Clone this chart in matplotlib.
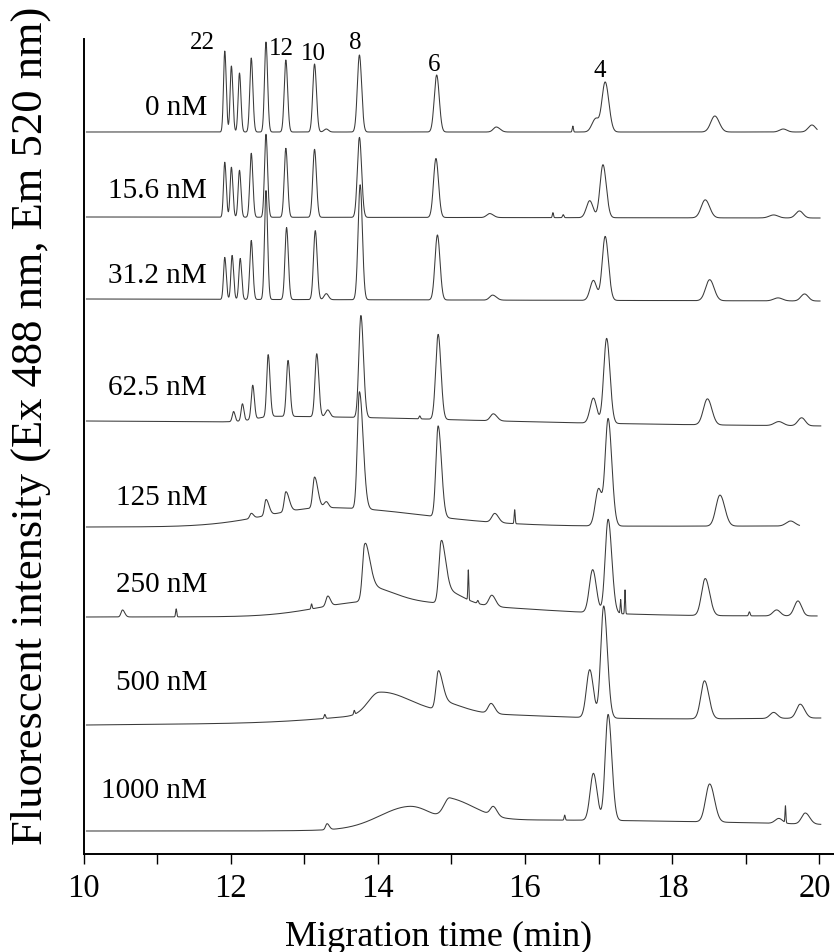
import numpy as np
import matplotlib
matplotlib.use('Agg')
import matplotlib.pyplot as plt
from matplotlib.transforms import ScaledTranslation

plt.rcParams['font.family'] = ['Liberation Serif', 'DejaVu Serif']

# ---------------- data ----------------
# Each trace: baseline level at start / end (intensity units, arbitrary) and
# peak table: (migration time, height, left width, right width)
concentrations = ['0 nM', '15.6 nM', '31.2 nM', '62.5 nM', '125 nM', '250 nM', '500 nM', '1000 nM']
label_baseline = [740, 657, 572, 460, 350, 263, 165, 57]

base_start = [722, 637, 555, 433, 327, 237, 129, 23]
base_end = [722, 636, 553, 428, 328, 238, 136, 23]
t_start = [10.04, 10.04, 10.04, 10.04, 10.04, 10.04, 10.04, 10.04]
t_end = [19.97, 20.01, 20.01, 20.02, 19.73, 19.97, 20.02, 20.02]

peaks_0 = [(11.92, 81, .017, .02), (12.01, 66, .017, .02), (12.12, 59, .018, .02),
           (12.28, 74, .02, .022), (12.48, 90, .02, .022), (12.75, 72, .022, .024),
           (13.14, 68, .024, .026), (13.30, 3, .03, .03), (13.75, 77, .028, .03),
           (14.80, 57, .033, .035), (15.61, 5, .04, .05), (16.65, 6, .008, .008),
           (16.96, 13, .05, .04), (17.09, 50, .045, .05), (18.58, 16, .055, .06),
           (19.51, 3, .05, .05), (19.90, 7, .05, .05)]
peaks_15 = [(11.92, 55, .017, .02), (12.01, 50, .017, .02), (12.12, 47, .018, .02),
            (12.28, 64, .02, .022), (12.48, 83, .02, .022), (12.75, 69, .022, .024),
            (13.14, 68, .024, .026), (13.75, 80, .028, .03), (14.79, 59, .033, .035),
            (15.52, 4, .04, .05), (16.38, 5, .008, .008), (16.52, 3, .01, .01),
            (16.88, 17, .045, .045), (17.06, 53, .04, .045), (18.45, 18, .055, .06),
            (19.38, 3, .06, .06), (19.73, 7, .05, .05)]
peaks_31 = [(11.92, 42, .017, .02), (12.02, 44, .017, .02), (12.13, 41, .018, .02),
            (12.28, 59, .02, .022), (12.48, 109, .02, .022), (12.76, 72, .022, .024),
            (13.15, 69, .024, .026), (13.30, 6, .03, .03), (13.76, 115, .028, .03),
            (14.81, 65, .033, .035), (15.56, 5, .04, .05), (16.93, 20, .045, .045),
            (17.09, 64, .04, .045), (18.51, 21, .055, .06), (19.44, 3, .06, .06),
            (19.80, 7, .05, .05)]
peaks_62 = [(12.60, 6, .25, 2.5),
            (12.04, 10, .018, .02), (12.16, 17, .018, .02), (12.30, 34, .02, .022),
            (12.51, 62, .02, .025), (12.78, 56, .022, .026), (13.17, 63, .024, .028),
            (13.32, 7, .03, .03), (13.77, 102, .028, .035), (14.57, 3, .01, .01),
            (14.82, 85, .033, .038), (15.57, 7, .04, .05), (16.93, 25, .045, .045),
            (17.11, 85, .04, .045), (18.48, 26, .055, .06), (19.45, 4, .06, .06),
            (19.76, 8, .05, .05)]
peaks_125 = [(13.30, 19, .8, 1.3),
             (12.28, 5, .02, .03), (12.48, 16, .02, .04), (12.75, 20, .022, .045),
             (13.14, 31, .024, .045), (13.30, 6, .03, .03), (13.75, 117, .028, .05),
             (14.82, 91, .03, .045), (15.59, 9, .04, .05), (15.86, 14, .007, .007),
             (17.00, 37, .045, .045), (17.13, 107, .04, .05), (18.65, 31, .055, .065),
             (19.61, 5, .06, .06)]
peaks_250 = [(13.90, 15, .7, 1.8),
             (10.53, 7, .02, .03), (11.26, 8, .008, .008), (13.10, 5, .008, .008),
             (13.32, 10, .025, .035), (13.82, 45, .028, .07), (13.85, 15, .05, .35),
             (14.86, 50, .03, .06), (14.88, 14, .04, .25), (15.23, 30, .006, .006),
             (15.36, 3, .01, .01), (15.55, 11, .04, .05), (16.92, 43, .045, .05),
             (17.13, 94, .04, .05), (17.30, 14, .006, .006), (17.36, 24, .006, .006),
             (18.45, 37, .05, .06), (19.05, 4, .01, .01), (19.42, 6, .05, .05),
             (19.71, 15, .05, .05)]
peaks_500 = [(14.50, 9, 1.0, 1.5), (14.02, 22, .15, .4),
             (13.28, 4, .01, .01), (13.68, 4, .008, .008),
             (14.82, 30, .03, .06), (14.84, 10, .04, .3), (15.54, 10, .04, .05),
             (16.88, 48, .045, .05), (17.07, 112, .04, .05), (18.44, 38, .05, .06),
             (19.38, 6, .05, .05), (19.74, 14, .05, .06)]
peaks_1000 = [(16.00, 11, 1.2, 4.0), (14.42, 20, .4, .3), (14.98, 22, .08, .35),
              (13.31, 6, .02, .03), (15.57, 9, .04, .05), (16.54, 5, .008, .008),
              (16.93, 47, .045, .05), (17.13, 106, .04, .05), (18.51, 38, .055, .065),
              (19.45, 5, .05, .05), (19.54, 17, .006, .006), (19.81, 11, .05, .06)]
peak_tables = [peaks_0, peaks_15, peaks_31, peaks_62, peaks_125, peaks_250, peaks_500, peaks_1000]

# fragment-size annotations
size_labels = ['22', '12', '10', '8', '6', '4']
size_label_t = [11.61, 12.69, 13.12, 13.69, 14.76, 17.01]
size_label_y = [806, 800, 795, 806, 784, 778]

xticks = [10, 12, 14, 16, 18, 20]
xminor = [11, 13, 15, 17, 19]

# ---------------- figure ----------------
fig = plt.figure(figsize=(8.34, 9.53), dpi=100)
ax = fig.add_axes([83.5 / 834, 98 / 953, 750.5 / 834, 815 / 953])


def build_trace(t, b0, b1, peaks):
    y = b0 + (b1 - b0) * (t - t[0]) / (t[-1] - t[0])
    for c, h, sl, sr in peaks:
        s = np.where(t < c, sl, sr)
        y = y + h * np.exp(-0.5 * ((t - c) / s) ** 2)
    return y


for i, name in enumerate(concentrations):
    t = np.linspace(t_start[i], t_end[i], 5000)
    y = build_trace(t, base_start[i], base_end[i], peak_tables[i])
    ax.plot(t, y, color='#3a3a3a', lw=0.75)
    ax.text(11.68, label_baseline[i], name, ha='right', va='baseline', fontsize=21)

for s, tx, ty in zip(size_labels, size_label_t, size_label_y):
    ax.text(tx, ty, s, ha='center', va='baseline', fontsize=18)

ax.set_xlim(10, 20.2)
ax.set_ylim(0, 815)
ax.set_xticks(xticks)
ax.set_xticks(xminor, minor=True)
ax.set_yticks([])
ax.tick_params(axis='x', which='both', direction='out', length=7, width=1.0, labelsize=23.5, pad=6)
for side in ['top', 'right']:
    ax.spines[side].set_visible(False)
for side in ['left', 'bottom']:
    ax.spines[side].set_linewidth(1.4)

# last tick label sits against the right edge in the reference
last = ax.get_xticklabels()[-1]
last.set_transform(last.get_transform() + ScaledTranslation(-4 / 100, 0, fig.dpi_scale_trans))

ax.set_xlabel('Migration time (min)', fontsize=26, va='baseline')
ax.xaxis.set_label_coords((439 - 83.5) / 750.5, -(946 - 855) / 815)
ax.set_ylabel('Fluorescent intensity (Ex 488 nm, Em 520 nm)', fontsize=32, va='center')
ax.yaxis.set_label_coords(-(83.5 - 31) / 750.5, (855 - 426) / 815)

fig.savefig('out.png', dpi=100)
